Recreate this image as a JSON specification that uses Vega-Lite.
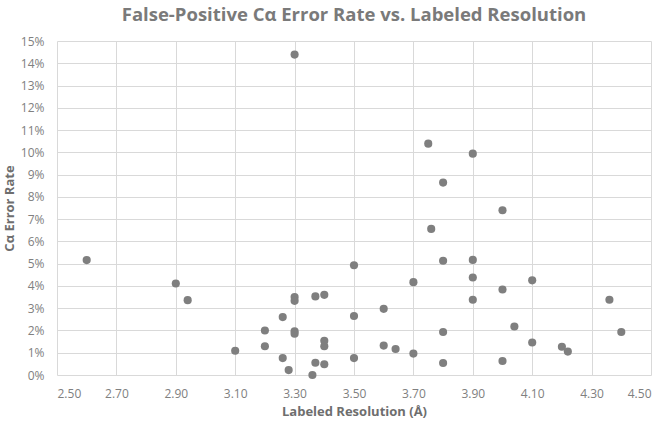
{
  "$schema": "https://vega.github.io/schema/vega-lite/v6.json",
  "width": 594,
  "height": 334,
  "autosize": {"type": "none"},
  "padding": {"left": 57, "top": 41, "right": 13, "bottom": 50},
  "background": "white",
  "title": {
    "text": "False-Positive Cα Error Rate vs. Labeled Resolution",
    "font": "Open Sans",
    "fontSize": 18.5,
    "fontWeight": "bold",
    "color": "#7a7a7a",
    "anchor": "middle",
    "frame": "group",
    "offset": 11
  },
  "config": {
    "view": {"stroke": null},
    "axis": {
      "labelFont": "Open Sans",
      "labelFontSize": 12,
      "labelColor": "#808080",
      "titleFont": "Open Sans",
      "titleFontSize": 13,
      "titleFontWeight": "bold",
      "titleColor": "#6e6e6e",
      "gridColor": "#d9d9d9",
      "gridWidth": 1,
      "domain": false,
      "ticks": false
    }
  },
  "data": {
    "values": [
      {"res": 2.60, "rate": 0.0516},
      {"res": 2.90, "rate": 0.0411},
      {"res": 2.94, "rate": 0.0336},
      {"res": 3.30, "rate": 0.1439},
      {"res": 3.30, "rate": 0.0350},
      {"res": 3.30, "rate": 0.0333},
      {"res": 3.37, "rate": 0.0353},
      {"res": 3.40, "rate": 0.0360},
      {"res": 3.26, "rate": 0.0260},
      {"res": 3.20, "rate": 0.0200},
      {"res": 3.30, "rate": 0.0196},
      {"res": 3.30, "rate": 0.0185},
      {"res": 3.40, "rate": 0.0154},
      {"res": 3.40, "rate": 0.0129},
      {"res": 3.20, "rate": 0.0129},
      {"res": 3.10, "rate": 0.0109},
      {"res": 3.26, "rate": 0.0076},
      {"res": 3.37, "rate": 0.0055},
      {"res": 3.40, "rate": 0.0048},
      {"res": 3.28, "rate": 0.0022},
      {"res": 3.36, "rate": 0.0000},
      {"res": 3.75, "rate": 0.1039},
      {"res": 3.90, "rate": 0.0994},
      {"res": 3.80, "rate": 0.0864},
      {"res": 4.00, "rate": 0.0740},
      {"res": 3.76, "rate": 0.0656},
      {"res": 3.80, "rate": 0.0513},
      {"res": 3.90, "rate": 0.0517},
      {"res": 3.50, "rate": 0.0493},
      {"res": 3.90, "rate": 0.0438},
      {"res": 4.10, "rate": 0.0425},
      {"res": 3.70, "rate": 0.0417},
      {"res": 4.00, "rate": 0.0384},
      {"res": 3.90, "rate": 0.0338},
      {"res": 4.36, "rate": 0.0338},
      {"res": 3.60, "rate": 0.0297},
      {"res": 3.50, "rate": 0.0265},
      {"res": 4.04, "rate": 0.0218},
      {"res": 3.80, "rate": 0.0193},
      {"res": 4.40, "rate": 0.0193},
      {"res": 4.10, "rate": 0.0146},
      {"res": 3.60, "rate": 0.0132},
      {"res": 4.20, "rate": 0.0127},
      {"res": 4.22, "rate": 0.0105},
      {"res": 3.64, "rate": 0.0117},
      {"res": 3.70, "rate": 0.0096},
      {"res": 3.50, "rate": 0.0076},
      {"res": 3.80, "rate": 0.0054},
      {"res": 4.00, "rate": 0.0063}
    ]
  },
  "mark": {"type": "circle", "size": 66, "color": "#7f7f7f", "opacity": 1},
  "encoding": {
    "x": {
      "field": "res",
      "type": "quantitative",
      "scale": {"domain": [2.5, 4.5], "nice": false, "zero": false},
      "axis": {
        "values": [2.5, 2.7, 2.9, 3.1, 3.3, 3.5, 3.7, 3.9, 4.1, 4.3, 4.5],
        "format": ".2f",
        "labelPadding": 13,
        "title": "Labeled Resolution (Å)",
        "titlePadding": 6
      }
    },
    "y": {
      "field": "rate",
      "type": "quantitative",
      "scale": {"domain": [0, 0.15], "nice": false},
      "axis": {
        "values": [0, 0.01, 0.02, 0.03, 0.04, 0.05, 0.06, 0.07, 0.08, 0.09, 0.1, 0.11, 0.12, 0.13, 0.14, 0.15],
        "format": ".0%",
        "labelPadding": 13,
        "title": "Cα Error Rate",
        "titlePadding": 4
      }
    }
  }
}
